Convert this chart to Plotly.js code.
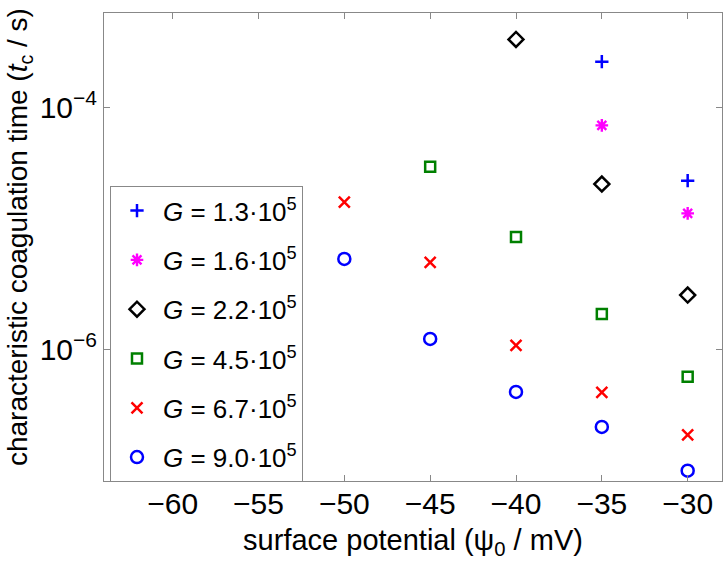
<!DOCTYPE html>
<html>
<head>
<meta charset="utf-8">
<script src="https://cdn.plot.ly/plotly-3.0.1.min.js"></script>
<style>body{margin:0;padding:0;background:#fff;} #chart{width:723px;height:563px;}</style>
</head>
<body>
<div id="chart"></div>
<script>
const seriesNames = ["<i>G</i> = 1.3·10<sup>5</sup>", "<i>G</i> = 1.6·10<sup>5</sup>", "<i>G</i> = 2.2·10<sup>5</sup>", "<i>G</i> = 4.5·10<sup>5</sup>", "<i>G</i> = 6.7·10<sup>5</sup>", "<i>G</i> = 9.0·10<sup>5</sup>"];
const x_G13 = [-35, -30];
const y_G13 = [2.37e-4, 2.46e-5];
const x_G16 = [-35, -30];
const y_G16 = [7.05e-5, 1.32e-5];
const x_G22 = [-40, -35, -30];
const y_G22 = [3.62e-4, 2.31e-5, 2.79e-6];
const x_G45 = [-45, -40, -35, -30];
const y_G45 = [3.21e-5, 8.43e-6, 1.95e-6, 5.9e-7];
const x_G67 = [-50, -45, -40, -35, -30];
const y_G67 = [1.64e-5, 5.2e-6, 1.07e-6, 4.39e-7, 1.95e-7];
const x_G90 = [-50, -45, -40, -35, -30];
const y_G90 = [5.55e-6, 1.21e-6, 4.42e-7, 2.27e-7, 9.86e-8];
const xTickVals = [-60, -55, -50, -45, -40, -35, -30];
const xTickText = ["−60", "−55", "−50", "−45", "−40", "−35", "−30"];
const yTickVals = [1e-6, 1e-4];
const yTickText = ["10<sup>−6</sup>", "10<sup>−4</sup>"];
const xTitle = "surface potential (ψ<sub>0</sub> / mV)";
const yTitle = "characteristic coagulation time (<i>t</i><sub>c</sub> / s)";

const styles = [
  {symbol: "cross-thin-open", color: "#0000ff", size: 9.5, w: 2.5},
  {symbol: "asterisk-open", color: "#ff00ff", size: 10.5, w: 2.4},
  {symbol: "diamond-open", color: "#000000", size: 11.5, w: 2.5},
  {symbol: "square-open", color: "#008000", size: 10, w: 2.5},
  {symbol: "x-thin-open", color: "#ff0000", size: 11, w: 2.5},
  {symbol: "circle-open", color: "#0000ff", size: 12, w: 2.5}
];
const xs = [x_G13, x_G16, x_G22, x_G45, x_G67, x_G90];
const ys = [y_G13, y_G16, y_G22, y_G45, y_G67, y_G90];
const data = xs.map((x, i) => ({
  x: x, y: ys[i], type: "scatter", mode: "markers", name: seriesNames[i],
  legendgroup: "g" + i,
  marker: {symbol: styles[i].symbol, size: styles[i].size, color: styles[i].color,
           line: {color: styles[i].color, width: styles[i].w}}
}));

const fam = "Liberation Sans, Arial, sans-serif";
const layout = {
  width: 723, height: 563,
  margin: {l: 104, r: 1, t: 13, b: 82},
  paper_bgcolor: "#fff", plot_bgcolor: "#fff",
  font: {family: fam, size: 26, color: "#000"},
  showlegend: true,
  legend: {x: 0.0097, y: 0.63, xanchor: "left", yanchor: "top",
           bordercolor: "#888", borderwidth: 1, bgcolor: "#fff",
           font: {family: fam, size: 26, color: "#000"},
           tracegroupgap: 12.5, itemsizing: "trace", itemwidth: 42},
  xaxis: {
    range: [-64, -28], tickvals: xTickVals, ticktext: xTickText,
    ticks: "inside", ticklen: 6, tickcolor: "#888", mirror: "ticks",
    showline: true, linecolor: "#888", linewidth: 1, showgrid: false, zeroline: false,
    tickfont: {family: fam, size: 30, color: "#000"}, ticklabelstandoff: -4,
    title: {text: xTitle, font: {family: fam, size: 29, color: "#000"}, standoff: 10}
  },
  yaxis: {
    type: "log", range: [-7.091, -3.223], tickvals: yTickVals, ticktext: yTickText,
    ticks: "inside", ticklen: 6, tickcolor: "#888", mirror: "ticks",
    showline: true, linecolor: "#888", linewidth: 1, showgrid: false, zeroline: false,
    tickfont: {family: fam, size: 30, color: "#000"}
  },
  annotations: [{
    text: yTitle, textangle: -90, xref: "paper", yref: "paper",
    x: -0.137, y: 0.522, xanchor: "center", yanchor: "middle", showarrow: false,
    font: {family: fam, size: 28, color: "#000"}
  }]
};
Plotly.newPlot("chart", data, layout, {displayModeBar: false, staticPlot: true});
</script>
</body>
</html>
